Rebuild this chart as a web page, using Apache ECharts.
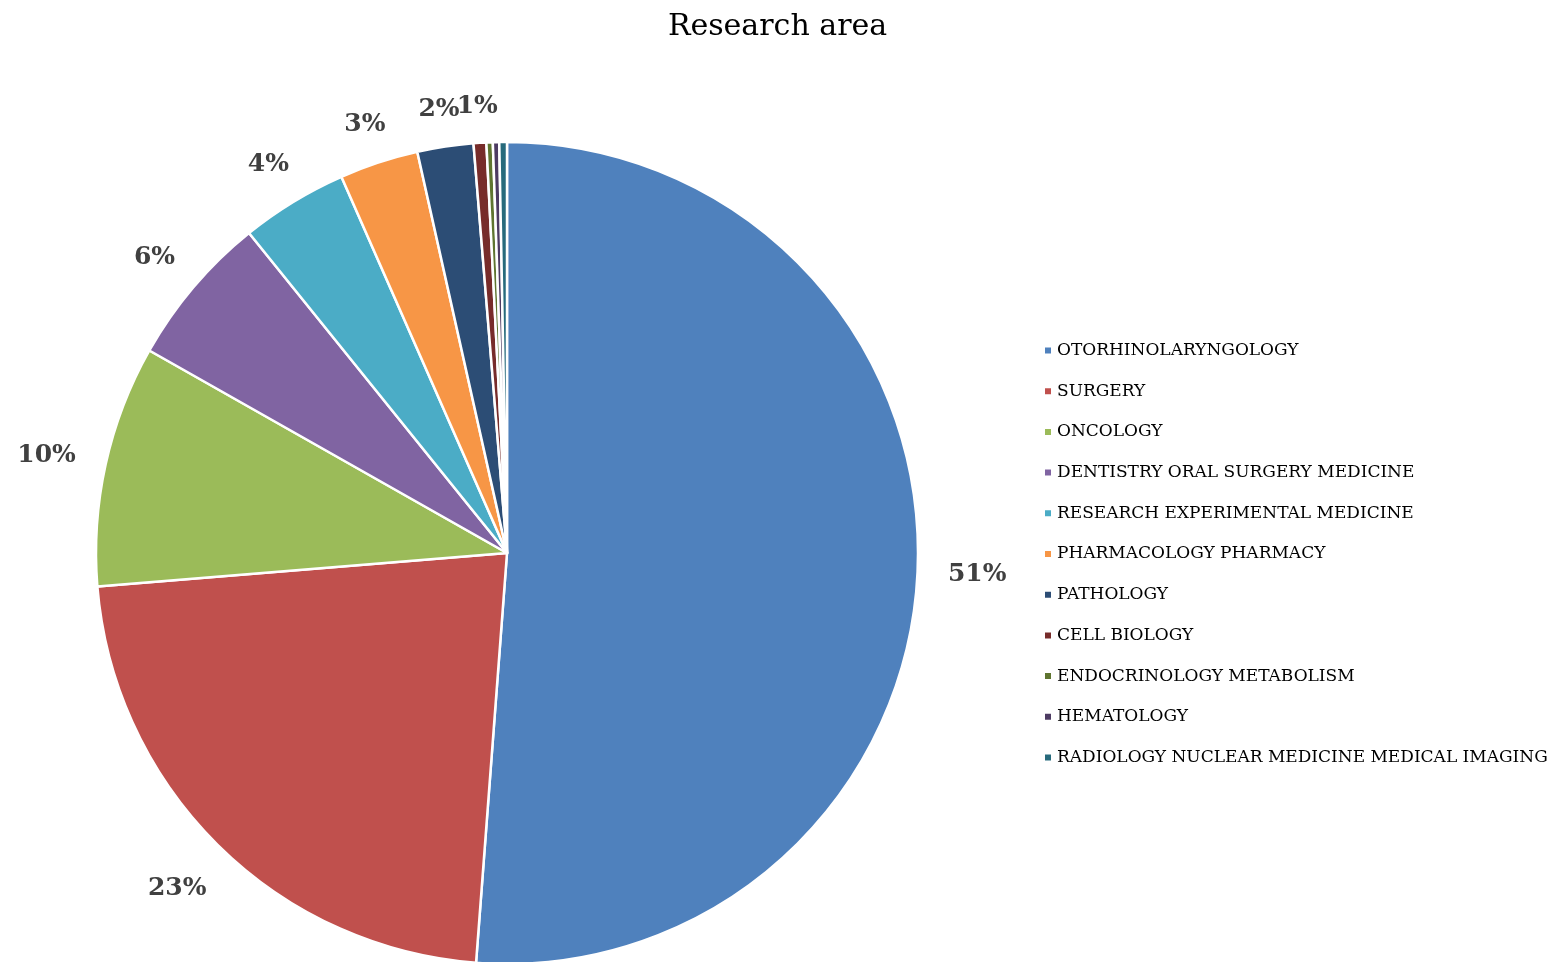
<!DOCTYPE html>
<html>
<head>
<meta charset="utf-8">
<script src="https://cdn.jsdelivr.net/npm/echarts@6/dist/echarts.min.js"></script>
<style>
  html, body { margin: 0; padding: 0; background: #fff; }
  #chart { width: 1555px; height: 962px; }
</style>
</head>
<body>
<div id="chart"></div>
<script>
// research areas and their share (%)
var areas = ['OTORHINOLARYNGOLOGY', 'SURGERY', 'ONCOLOGY', 'DENTISTRY ORAL SURGERY MEDICINE',
    'RESEARCH EXPERIMENTAL MEDICINE', 'PHARMACOLOGY PHARMACY', 'PATHOLOGY', 'CELL BIOLOGY',
    'ENDOCRINOLOGY METABOLISM', 'HEMATOLOGY', 'RADIOLOGY NUCLEAR MEDICINE MEDICAL IMAGING'];
var shares = [51.2, 22.5, 9.5, 6.0, 4.2, 3.1, 2.2, 0.5, 0.25, 0.25, 0.3];
var colors = ['#4F81BD', '#C0504D', '#9BBB59', '#8064A2', '#4BACC6', '#F79646',
    '#2C4D75', '#772C2A', '#5F7530', '#4D3B62', '#276A7C'];

var pieCenter = [507, 553];
var pieRadius = 411;
var labelGap = 30;

var chart = echarts.init(document.getElementById('chart'));

var pieData = areas.map((name, i) => {
    return {
        name: name,
        value: shares[i],
        label: {show: Math.round(shares[i]) > 0}
    };
});

// mid angle of each slice, clockwise from 12 o'clock
var total = shares.reduce((a, b) => a + b, 0);
var midAngles = [];
var cum = 0;
shares.forEach((v) => {
    midAngles.push((cum + v / 2) / total * Math.PI * 2);
    cum += v;
});

var option = {
    color: colors,
    title: {
        text: 'Research area',
        left: 'center',
        top: 7,
        textStyle: {
            fontFamily: 'DejaVu Serif',
            fontSize: 30,
            fontWeight: 'normal',
            color: '#000'
        }
    },
    legend: {
        orient: 'vertical',
        left: 1038,
        top: 337,
        icon: 'rect',
        itemWidth: 8,
        itemHeight: 8,
        itemGap: 23.7,
        data: areas,
        textStyle: {
            fontFamily: 'DejaVu Serif',
            fontSize: 17,
            color: '#000'
        }
    },
    series: [
        {
            type: 'pie',
            center: pieCenter,
            radius: pieRadius,
            startAngle: 90,
            clockwise: true,
            avoidLabelOverlap: false,
            itemStyle: {
                borderColor: '#fff',
                borderWidth: 2.5
            },
            label: {
                position: 'outside',
                formatter: (p) => Math.round(p.value) + '%',
                fontFamily: 'DejaVu Serif',
                fontSize: 25,
                fontWeight: 'bold',
                color: '#404040'
            },
            labelLine: {
                show: false,
                length: 30,
                length2: 0
            },
            // place label box just outside the rim, like a best-fit label
            labelLayout: (params) => {
                var a = midAngles[params.dataIndex];
                var dx = Math.sin(a), dy = -Math.cos(a);
                var w = params.labelRect.width / 2, h = params.labelRect.height * 0.35;
                var d = pieRadius + labelGap + w * Math.abs(dx) + h * Math.abs(dy);
                return {
                    x: pieCenter[0] + dx * d,
                    y: pieCenter[1] + dy * d + 4,
                    align: 'center',
                    verticalAlign: 'middle',
                    hideOverlap: false
                };
            },
            emphasis: {disabled: true},
            data: pieData
        }
    ]
};

chart.setOption(option);
</script>
</body>
</html>
